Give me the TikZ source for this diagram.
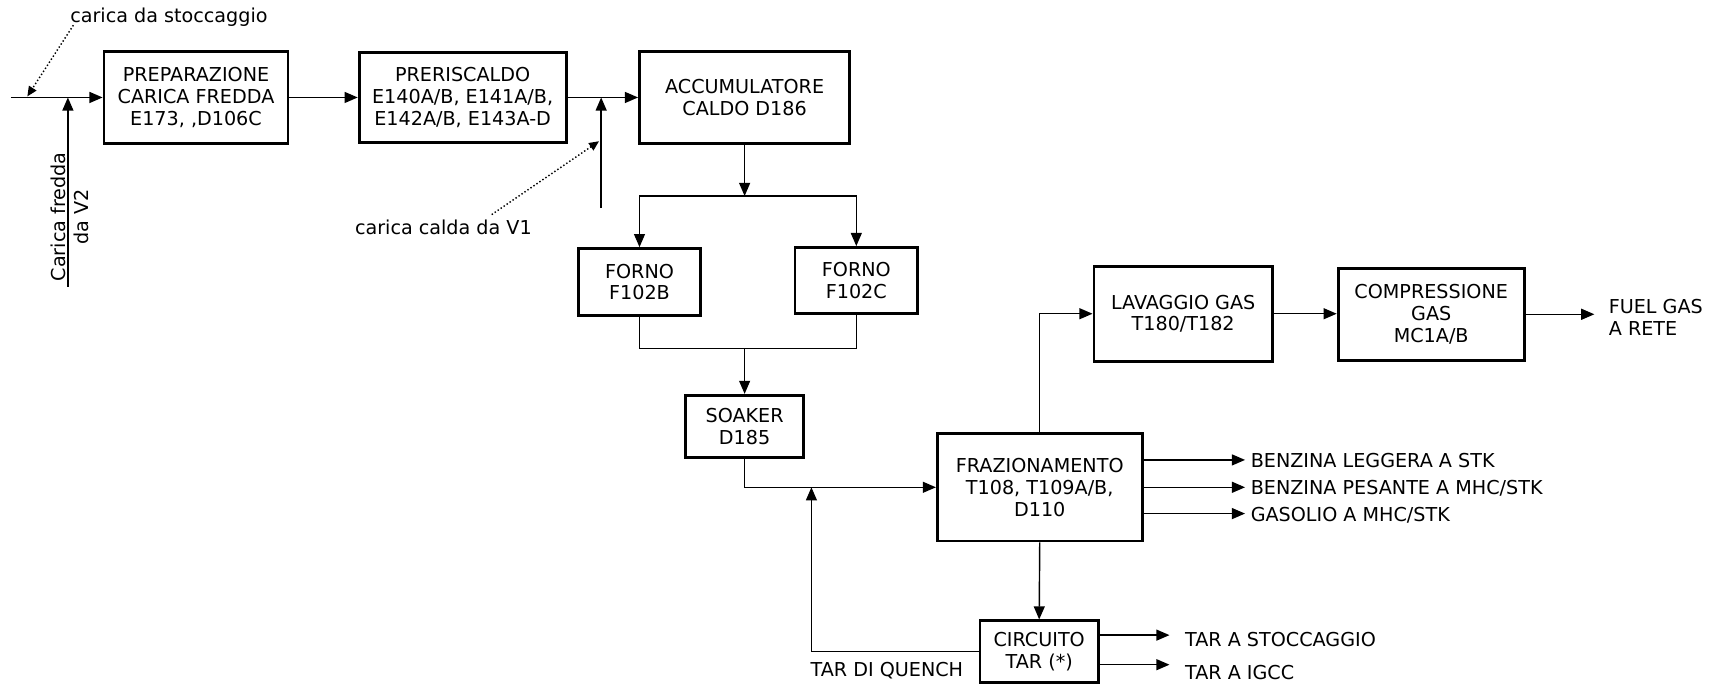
\documentclass[tikz,border=0pt]{standalone}
\usepackage{fontspec}
\setmainfont{DejaVu Sans}
\usetikzlibrary{arrows.meta}
\begin{document}
\begin{tikzpicture}[x=1pt,y=-1pt,
  font=\fontsize{17.5}{20}\selectfont,
  box/.style={draw, line width=2.6pt, align=center, inner sep=0pt},
  conn/.style={line width=1.3pt},
  arr/.style={conn, -{Triangle[length=12pt,width=10pt]}},
  dotarr/.style={line width=1.3pt, dotted, -{Triangle[length=9pt,width=8pt]}},
  lbl/.style={inner sep=0pt, anchor=west, align=left}]
\useasboundingbox (0,0) rectangle (1568,625);
\fill[white] (0,0) rectangle (1568,625);

% boxes
\node[box, minimum width=168pt, minimum height=84pt] (prep) at (179,89) {PREPARAZIONE\\CARICA FREDDA\\E173, ,D106C};
\node[box, minimum width=189pt, minimum height=82pt] (preh) at (422.5,89) {PRERISCALDO\\E140A/B, E141A/B,\\E142A/B, E143A-D};
\node[box, minimum width=192pt, minimum height=84pt] (acc) at (680,89) {ACCUMULATORE\\CALDO D186};
\node[box, minimum width=112pt, minimum height=61pt] (f1) at (584,257.5) {FORNO\\F102B};
\node[box, minimum width=112pt, minimum height=60pt] (f2) at (782,256) {FORNO\\F102C};
\node[box, minimum width=108pt, minimum height=57pt] (soak) at (680,389.5) {SOAKER\\D185};
\node[box, minimum width=187pt, minimum height=98pt] (fraz) at (949.5,445) {FRAZIONAMENTO\\T108, T109A/B,\\D110};
\node[box, minimum width=163pt, minimum height=87pt] (lav) at (1080.5,286.5) {LAVAGGIO GAS\\T180/T182};
\node[box, minimum width=170pt, minimum height=84pt] (comp) at (1307,287) {COMPRESSIONE\\GAS\\MC1A/B};
\node[box, minimum width=108pt, minimum height=56pt] (circ) at (949,595) {CIRCUITO\\TAR (*)};

% labels
\node[lbl] (lsto) at (64,16) {carica da stoccaggio};
\node[inner sep=0pt, align=center, rotate=90] (lv2) at (64,198) {Carica fredda\\[1pt]da V2};
\node[lbl] (lv1) at (324,208) {carica calda da V1};
\node[lbl] (lfg) at (1469,290) {FUEL GAS\\A RETE};
\node[lbl] (lb1) at (1142,421) {BENZINA LEGGERA A STK};
\node[lbl] (lb2) at (1142,446) {BENZINA PESANTE A MHC/STK};
\node[lbl] (lb3) at (1142,471) {GASOLIO A MHC/STK};
\node[lbl] (lt1) at (1082,584) {TAR A STOCCAGGIO};
\node[lbl] (lt2) at (1082,614) {TAR A IGCC};
\node[lbl] (lq) at (740,612) {TAR DI QUENCH};

% coordinates
\coordinate (in0) at (10,89);
\coordinate (j1) at (62,89);
\coordinate (v2) at (62,262);
\coordinate (j2) at (549,89);
\coordinate (v1) at (549,190);
\coordinate (d1s) at (67,23);
\coordinate (d1e) at (25,88);
\coordinate (d2s) at (449,196);
\coordinate (d2e) at (547,129);
\coordinate (s1) at (680,179);
\coordinate (m1) at (680,318);
\coordinate (q1) at (741,445);
\coordinate (fg) at (1456,287);
\coordinate (o1) at (1137,420);
\coordinate (o2) at (1137,445);
\coordinate (o3) at (1137,469);
\coordinate (t1) at (1068,580);
\coordinate (t2) at (1068,607);

% connectors
\draw[arr] (in0) -- (prep.west);
\draw[arr] (v2) -- (j1);
\draw[dotarr] (d1s) -- (d1e);
\draw[arr] (prep.east) -- (preh.west);
\draw[arr] (preh.east) -- (acc.west);
\draw[arr] (v1) -- (j2);
\draw[dotarr] (d2s) -- (d2e);
\draw[arr] (acc.south) -- (s1);
\draw[arr] (s1) -| (f1.north);
\draw[arr] (s1) -| (f2.north);
\draw[conn] (f1.south) |- (m1) -| (f2.south);
\draw[arr] (m1) -- (soak.north);
\draw[arr] (soak.south) |- (fraz.west);
\draw[arr] (circ.west) -| (q1);
\draw[arr] (fraz.north) |- (lav.west);
\draw[arr] (lav.east) -- (lav.east -| comp.west);
\draw[arr] (comp.east) -- (fg);
\draw[arr] (o1 -| fraz.east) -- (o1);
\draw[arr] (o2 -| fraz.east) -- (o2);
\draw[arr] (o3 -| fraz.east) -- (o3);
\draw[arr] (fraz.south) -- (circ.north);
\draw[arr] (t1 -| circ.east) -- (t1);
\draw[arr] (t2 -| circ.east) -- (t2);
\end{tikzpicture}
\end{document}
